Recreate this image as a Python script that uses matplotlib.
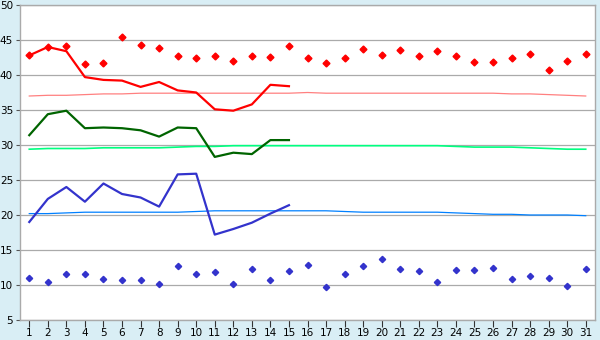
import numpy as np
import matplotlib
matplotlib.use("Agg")
import matplotlib.pyplot as plt

# days of the month
days = list(range(1, 32))
days_obs = list(range(1, 16))

# record highs / record lows (diamonds)
record_max = [42.8, 44.0, 44.1, 41.6, 41.7, 45.4, 44.3, 43.9, 42.7, 42.4,
              42.7, 42.0, 42.7, 42.6, 44.1, 42.4, 41.7, 42.4, 43.7, 42.9,
              43.6, 42.7, 43.4, 42.7, 41.9, 41.9, 42.4, 43.0, 40.7, 42.0, 43.0]
record_min = [11.0, 10.4, 11.6, 11.6, 10.9, 10.7, 10.7, 10.1, 12.7, 11.6,
              11.9, 10.1, 12.3, 10.7, 12.0, 12.9, 9.7, 11.6, 12.7, 13.7,
              12.3, 12.0, 10.4, 12.1, 12.1, 12.4, 10.9, 11.3, 11.0, 9.9, 12.3]

# observed max / mean / min (first half of month)
obs_max = [42.8, 44.0, 43.4, 39.7, 39.3, 39.2, 38.3, 39.0, 37.8, 37.5,
           35.1, 34.9, 35.8, 38.6, 38.4]
obs_mean = [31.4, 34.4, 34.9, 32.4, 32.5, 32.4, 32.1, 31.2, 32.5, 32.4,
            28.3, 28.9, 28.7, 30.7, 30.7]
obs_min = [19.0, 22.3, 24.0, 21.9, 24.5, 23.0, 22.5, 21.2, 25.8, 25.9,
           17.2, 18.0, 18.9, 20.2, 21.4]

# normals
normal_max = [37.0, 37.1, 37.1, 37.2, 37.3, 37.3, 37.4, 37.4, 37.4, 37.4,
              37.4, 37.4, 37.4, 37.4, 37.4, 37.5, 37.4, 37.4, 37.4, 37.4,
              37.4, 37.4, 37.4, 37.4, 37.4, 37.4, 37.3, 37.3, 37.2, 37.1, 37.0]
normal_mean = [29.4, 29.5, 29.5, 29.5, 29.6, 29.6, 29.6, 29.6, 29.7, 29.8,
               29.8, 29.9, 29.9, 29.9, 29.9, 29.9, 29.9, 29.9, 29.9, 29.9,
               29.9, 29.9, 29.9, 29.8, 29.7, 29.7, 29.7, 29.6, 29.5, 29.4, 29.4]
normal_min = [20.2, 20.2, 20.3, 20.4, 20.4, 20.4, 20.4, 20.4, 20.4, 20.5,
              20.6, 20.6, 20.6, 20.6, 20.6, 20.6, 20.6, 20.5, 20.4, 20.4,
              20.4, 20.4, 20.4, 20.3, 20.2, 20.1, 20.1, 20.0, 20.0, 20.0, 19.9]

y_ticks = list(range(5, 51, 5))

# --------------------------------------------------
# figure
# --------------------------------------------------
bg = "#D9EEF5"
fig = plt.figure(figsize=(6, 3.4), dpi=100, facecolor=bg)
ax = fig.add_axes([20/600, 20/340, 575/600, 315/340])
ax.set_facecolor("white")

ax.set_xlim(0.5, 31.5)
ax.set_ylim(5, 50)
ax.set_yticks(y_ticks)
ax.set_xticks(days)

for v in y_ticks:
    ax.axhline(v, color="#AAAAAA", linewidth=0.9, zorder=1)

# normals
ax.plot(days, normal_max, color="#FF8080", linewidth=0.9, zorder=2)
ax.plot(days, normal_mean, color="#00FF80", linewidth=1.2, zorder=2)
ax.plot(days, normal_min, color="#0080FF", linewidth=0.9, zorder=2)

# observed
ax.plot(days_obs, obs_max, color="#FF0000", linewidth=1.6, zorder=3)
ax.plot(days_obs, obs_mean, color="#006400", linewidth=1.6, zorder=3)
ax.plot(days_obs, obs_min, color="#3333CC", linewidth=1.6, zorder=3)

# records
ax.plot(days, record_max, linestyle="none", marker="D", markersize=3.5,
        color="#FF0000", zorder=4)
ax.plot(days, record_min, linestyle="none", marker="D", markersize=3.2,
        color="#3333CC", zorder=4)

for side in ["left", "top", "right", "bottom"]:
    ax.spines[side].set_color("#AAAAAA")
    ax.spines[side].set_linewidth(1.0)

ax.tick_params(axis="y", length=3, color="#555555", labelsize=7.5, pad=2)
ax.tick_params(axis="x", length=5, color="#333333", labelsize=7.5, pad=1)

fig.savefig("out.png", dpi=100, facecolor=bg)
